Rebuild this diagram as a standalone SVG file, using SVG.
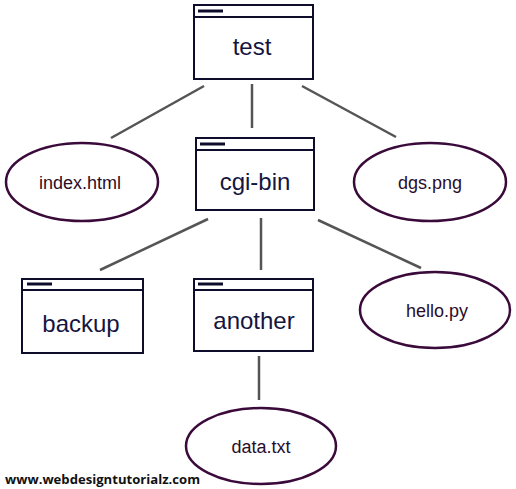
<svg xmlns="http://www.w3.org/2000/svg" width="516" height="489" viewBox="0 0 516 489">
<style>
.box{fill:#fff;stroke:#0d0d2b;stroke-width:2}
.bar{stroke:#0d0d2b;stroke-width:3}
.btxt{font-family:"Liberation Sans",Arial,sans-serif;font-size:24px;fill:#15153f;text-anchor:middle}
.ell{fill:#fff;stroke:#3a0a3a;stroke-width:2.5}
.etxt{font-family:"Liberation Sans",Arial,sans-serif;font-size:18px;fill:#2a0d2a;text-anchor:middle}
.con line{stroke:#555;stroke-width:2.5}
</style>
<rect width="516" height="489" fill="#fff"/>
<g class="con">
<line x1="204" y1="86" x2="111" y2="138"/>
<line x1="252" y1="84" x2="252" y2="128"/>
<line x1="302" y1="86" x2="396" y2="137"/>
<line x1="208" y1="219" x2="100" y2="270"/>
<line x1="261" y1="218" x2="261" y2="270"/>
<line x1="318" y1="220" x2="421" y2="268"/>
<line x1="259" y1="356" x2="259" y2="400"/>
</g>
<g id="test">
<rect class="box" x="194" y="5" width="119" height="74"/>
<line class="box" x1="194" y1="17" x2="313" y2="17"/>
<line class="bar" x1="198" y1="11" x2="223" y2="11"/>
<text class="btxt" x="252" y="55">test</text>
</g>
<g id="cgi-bin">
<rect class="box" x="196" y="138" width="118" height="72"/>
<line class="box" x1="196" y1="150" x2="314" y2="150"/>
<line class="bar" x1="200" y1="144" x2="225" y2="144"/>
<text class="btxt" x="255" y="190">cgi-bin</text>
</g>
<g id="backup">
<rect class="box" x="22" y="279" width="121" height="74"/>
<line class="box" x1="22" y1="290" x2="143" y2="290"/>
<line class="bar" x1="27" y1="284" x2="52" y2="284"/>
<text class="btxt" x="81" y="332">backup</text>
</g>
<g id="another">
<rect class="box" x="194" y="279" width="119" height="72"/>
<line class="box" x1="194" y1="290" x2="313" y2="290"/>
<line class="bar" x1="198" y1="284" x2="223" y2="284"/>
<text class="btxt" x="254" y="329">another</text>
</g>
<g id="index.html">
<ellipse class="ell" cx="82" cy="182" rx="76" ry="39"/>
<text class="etxt" x="80" y="189">index.html</text>
</g>
<g id="dgs.png">
<ellipse class="ell" cx="430" cy="182" rx="76" ry="39"/>
<text class="etxt" x="430" y="189">dgs.png</text>
</g>
<g id="hello.py">
<ellipse class="ell" cx="435" cy="310" rx="75" ry="38"/>
<text class="etxt" x="437" y="317">hello.py</text>
</g>
<g id="data.txt">
<ellipse class="ell" cx="261" cy="446" rx="75" ry="38"/>
<text class="etxt" x="261" y="453">data.txt</text>
</g>
<text x="5" y="484" font-family="'Open Sans','Liberation Sans',Arial,sans-serif" font-size="13" font-weight="bold" fill="#111" textLength="195" lengthAdjust="spacingAndGlyphs">www.webdesigntutorialz.com</text>
</svg>
